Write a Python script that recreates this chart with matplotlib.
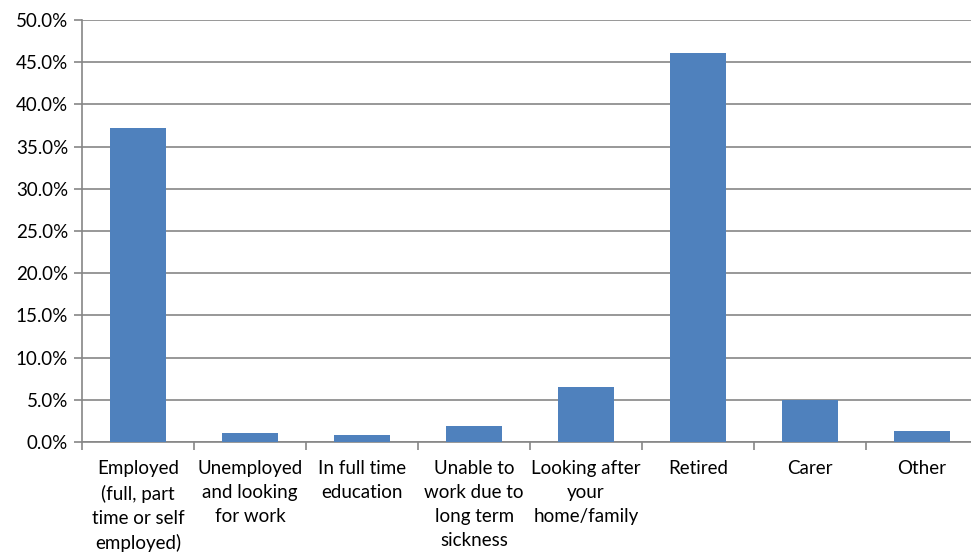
import matplotlib.pyplot as plt
from matplotlib.ticker import FuncFormatter, FixedLocator

categories = ["Employed\n(full, part\ntime or self\nemployed)",
              "Unemployed\nand looking\nfor work",
              "In full time\neducation",
              "Unable to\nwork due to\nlong term\nsickness",
              "Looking after\nyour\nhome/family",
              "Retired",
              "Carer",
              "Other"]
values = [37.2, 1.1, 0.8, 1.9, 6.5, 46.1, 5.0, 1.3]

plt.rcParams['font.family'] = ['Lato', 'DejaVu Sans']

fig = plt.figure(figsize=(9.71, 5.54), dpi=100)
# plot area runs slightly past the right edge of the image, as in the original
ax = fig.add_axes([0.0845, 0.2022, 0.9228, 0.7617])

x = list(range(len(categories)))
ax.bar(x, values, width=0.5, color="#4F81BD", zorder=3)

ax.set_xlim(-0.5, len(categories) - 0.5)
ax.set_ylim(0, 50)
ax.set_yticks([i * 5 for i in range(11)])
ax.yaxis.set_major_formatter(FuncFormatter(lambda v, p: "%.1f%%" % v))
ax.grid(axis="y", color="#868686", linewidth=1.2, zorder=0)

ax.set_xticks(x)
ax.set_xticklabels(categories, fontsize=13.5, linespacing=1.5, va="top")
ax.xaxis.set_minor_locator(FixedLocator([i - 0.5 for i in range(len(categories) + 1)]))
ax.tick_params(axis="x", which="major", length=0, pad=13)
ax.tick_params(axis="x", which="minor", length=6, color="#868686", width=1.2)
ax.tick_params(axis="y", length=6, color="#868686", width=1.2, labelsize=13.5, pad=4)

for s in ["top", "right"]:
    ax.spines[s].set_visible(False)
for s in ["left", "bottom"]:
    ax.spines[s].set_color("#868686")
    ax.spines[s].set_linewidth(1.2)

fig.savefig("out.png", dpi=100)
